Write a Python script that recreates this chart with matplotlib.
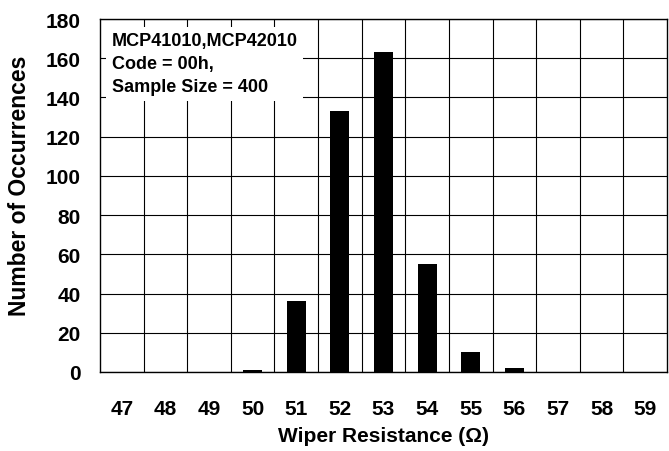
import matplotlib
matplotlib.use("Agg")
import matplotlib.pyplot as plt

resistance = [47, 48, 49, 50, 51, 52, 53, 54, 55, 56, 57, 58, 59]
occurrences = [0, 0, 0, 1, 36, 133, 163, 55, 10, 2, 0, 0, 0]
yticks = [0, 20, 40, 60, 80, 100, 120, 140, 160, 180]
note = "MCP41010,MCP42010\nCode = 00h,\nSample Size = 400"

plt.rcParams['font.family'] = ['Liberation Sans', 'DejaVu Sans']
plt.rcParams['font.weight'] = 'bold'

fig = plt.figure(figsize=(6.69, 4.52), dpi=100)
ax = fig.add_axes([100/669, (452-373)/452, 567/669, 353/452])

ax.bar(resistance, occurrences, width=0.44, color='black', zorder=3)
ax.set_xlim(46.5, 59.5)
ax.set_ylim(0, 180)
ax.set_xticks(resistance)
ax.set_yticks(yticks)
ax.set_xticks([r + 0.5 for r in resistance[:-1]], minor=True)
ax.grid(True, which='minor', axis='x', color='black', linewidth=0.8, zorder=1)
ax.grid(True, which='major', axis='y', color='black', linewidth=0.8, zorder=1)
ax.tick_params(axis='x', which='both', length=0, pad=19.5, labelsize=15)
ax.tick_params(axis='y', which='major', length=0, pad=14, labelsize=15)
for lbl in ax.get_xticklabels() + ax.get_yticklabels():
    lbl.set_fontweight('bold')
for s in ax.spines.values():
    s.set_linewidth(1.0)

ax.set_xlabel("Wiper Resistance (\u03a9)", fontsize=15, fontweight='bold', labelpad=6)
ax.set_ylabel("Number of Occurrences", fontsize=16.5, fontweight='bold')
ax.yaxis.set_label_coords(-0.122, 0.53)

ax.text(0.021, 0.962, note, transform=ax.transAxes, ha='left', va='top',
        fontsize=13, fontweight='bold', linespacing=1.45, zorder=5,
        bbox=dict(boxstyle='square,pad=0.3', facecolor='white', edgecolor='none'))

fig.savefig("out.png", dpi=100)
